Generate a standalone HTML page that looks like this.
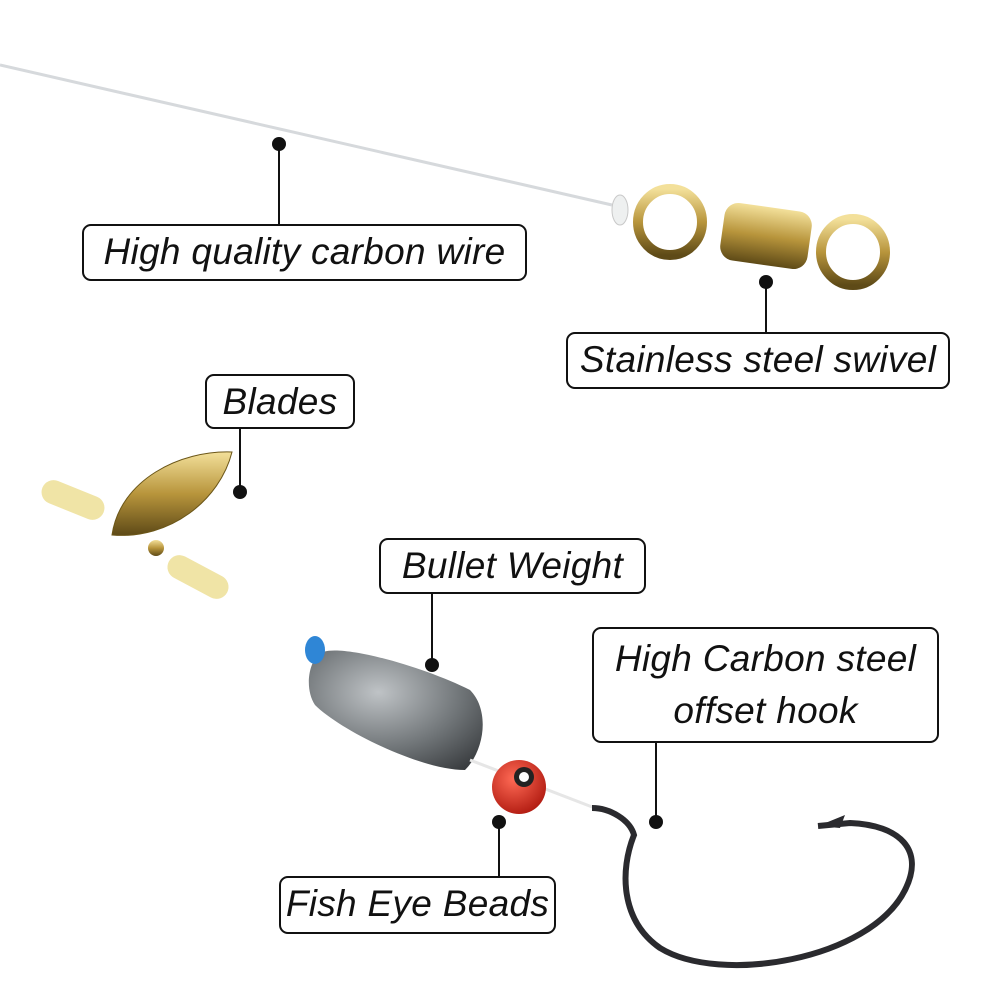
<!DOCTYPE html>
<html><head><meta charset="utf-8"><style>
html,body{margin:0;padding:0;background:#fff;width:1000px;height:1000px;overflow:hidden;position:relative;font-family:"Liberation Sans",sans-serif}
.box{position:absolute;border:2px solid #111;border-radius:9px;background:#fff;font-style:italic;font-size:37px;color:#111;text-align:center;box-sizing:border-box;line-height:52px;letter-spacing:0.3px}
svg{position:absolute;left:0;top:0}
</style></head><body>
<svg width="1000" height="1000" viewBox="0 0 1000 1000">
<defs>
<linearGradient id="gold" x1="0" y1="0" x2="0" y2="1"><stop offset="0" stop-color="#f3e09a"/><stop offset=".5" stop-color="#b8953c"/><stop offset="1" stop-color="#5e4a17"/></linearGradient>
<radialGradient id="lead" cx=".4" cy=".35" r=".8"><stop offset="0" stop-color="#bfc3c6"/><stop offset=".6" stop-color="#6f7477"/><stop offset="1" stop-color="#3a3d40"/></radialGradient>
<radialGradient id="red" cx=".4" cy=".35" r=".7"><stop offset="0" stop-color="#ff6a55"/><stop offset="1" stop-color="#b01a10"/></radialGradient>
</defs>
<!-- line -->
<line x1="0" y1="65" x2="612" y2="205" stroke="#d6d9dc" stroke-width="3"/>
<ellipse cx="620" cy="210" rx="8" ry="15" fill="#eef0f0" stroke="#c8c8c8"/>
<!-- swivel -->
<ellipse cx="670" cy="222" rx="32" ry="33" fill="none" stroke="url(#gold)" stroke-width="10"/>
<ellipse cx="853" cy="252" rx="32" ry="33" fill="none" stroke="url(#gold)" stroke-width="10"/>
<rect x="722" y="207" width="88" height="58" rx="14" fill="url(#gold)" transform="rotate(8 766 236)"/>
<!-- blade -->
<rect x="40" y="488" width="66" height="24" rx="12" fill="#f0e4a6" transform="rotate(22 73 500)"/>
<rect x="165" y="565" width="66" height="24" rx="12" fill="#f0e4a6" transform="rotate(28 198 577)"/>
<path d="M112,535 C120,480 180,450 232,452 C220,500 170,540 112,535Z" fill="url(#gold)" stroke="#6b5618"/>
<circle cx="156" cy="548" r="8" fill="url(#gold)"/>
<!-- weight -->
<path d="M318,655 C330,640 420,665 470,690 C490,710 485,750 465,770 C420,770 340,730 315,705 C305,690 308,665 318,655Z" fill="url(#lead)"/>
<ellipse cx="315" cy="650" rx="10" ry="14" fill="#2f86d6"/>
<line x1="470" y1="760" x2="600" y2="810" stroke="#e6e6e6" stroke-width="3"/>
<!-- bead -->
<circle cx="519" cy="787" r="27" fill="url(#red)"/>
<circle cx="524" cy="777" r="10" fill="#222"/><circle cx="524" cy="777" r="5" fill="#fff"/>
<!-- hook -->
<path d="M592,808 C610,808 630,820 634,835 C620,870 620,920 660,948 C720,985 870,960 905,890 C925,850 900,825 850,823 L818,826" fill="none" stroke="#2a2a2e" stroke-width="6"/>
<path d="M818,826 L845,815 L840,828Z" fill="#2a2a2e"/>
<!-- connectors -->
<g stroke="#111" stroke-width="2">
<line x1="279" y1="144" x2="279" y2="224"/>
<line x1="766" y1="282" x2="766" y2="332"/>
<line x1="240" y1="428" x2="240" y2="492"/>
<line x1="432" y1="594" x2="432" y2="665"/>
<line x1="656" y1="743" x2="656" y2="822"/>
<line x1="499" y1="822" x2="499" y2="876"/>
</g>
<g fill="#111">
<circle cx="279" cy="144" r="7"/><circle cx="766" cy="282" r="7"/><circle cx="240" cy="492" r="7"/>
<circle cx="432" cy="665" r="7"/><circle cx="656" cy="822" r="7"/><circle cx="499" cy="822" r="7"/>
</g>
</svg>
<div class="box" style="left:82px;top:224px;width:445px;height:57px">High quality carbon wire</div>
<div class="box" style="left:566px;top:332px;width:384px;height:57px">Stainless steel swivel</div>
<div class="box" style="left:205px;top:374px;width:150px;height:55px">Blades</div>
<div class="box" style="left:379px;top:538px;width:267px;height:56px">Bullet Weight</div>
<div class="box" style="left:592px;top:627px;width:347px;height:116px;padding-top:4px">High Carbon steel<br>offset hook</div>
<div class="box" style="left:279px;top:876px;width:277px;height:58px">Fish Eye Beads</div>
</body></html>
